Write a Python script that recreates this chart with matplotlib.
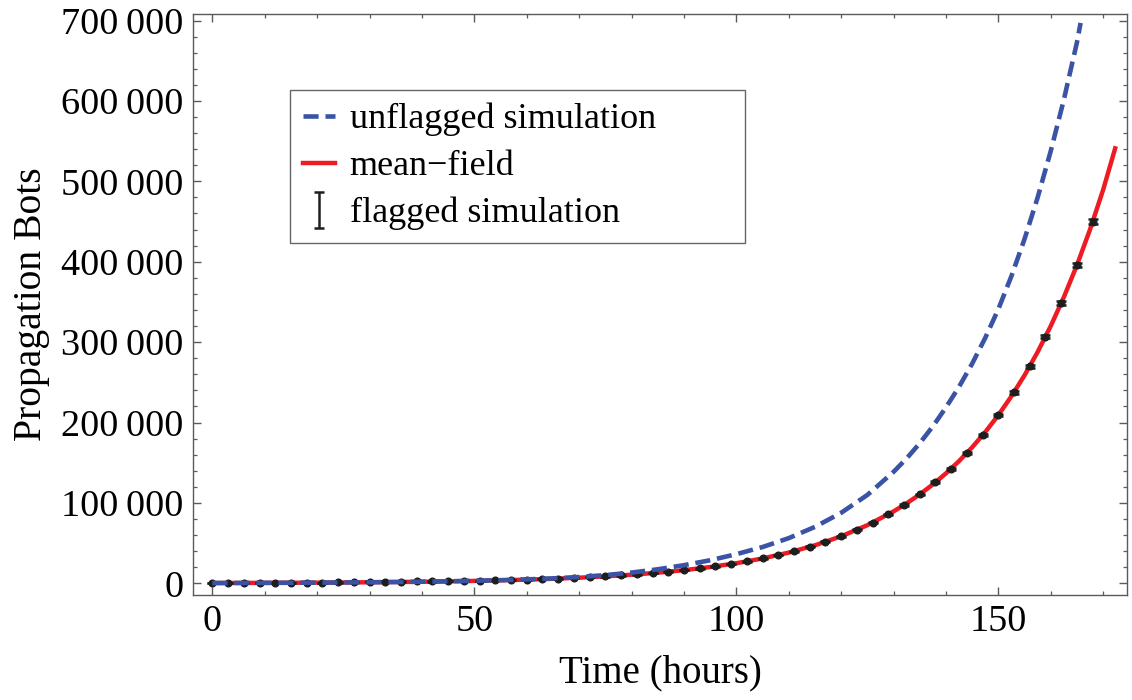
import matplotlib
matplotlib.use("Agg")
import matplotlib.pyplot as plt
from matplotlib.ticker import MultipleLocator, FuncFormatter

plt.rcParams['font.family'] = ['Liberation Serif', 'DejaVu Serif']

# -------- data --------
# mean-field curve
mf_t = [0, 5, 10, 15, 20, 25, 30, 35, 40, 45, 50, 55, 60, 65, 70, 75, 80, 85, 90,
        95, 100, 105, 110, 115, 120, 125, 130,
        132.5, 135, 137.5, 140, 142.5, 145, 147.5, 150, 152.5, 155, 157.5, 160,
        162.5, 165, 167.5, 170, 172.3]
mf_bots = [356, 440, 545, 674, 835, 1032, 1275, 1577, 1950, 2412, 2980, 3687, 4560,
           5640, 6980, 8630, 10680, 13210, 16330, 20200, 24980, 30900, 38210, 47260,
           58440, 72280, 89400,
           99420, 110570, 122970, 136700, 152020, 169100, 188060, 209200, 232650,
           258700, 287700, 320000, 355870, 395700, 440060, 489400, 541000]

# unflagged simulation (dashed)
unflag_t = [0, 5, 10, 15, 20, 25, 30, 35, 40, 45, 50, 55, 60, 65, 70, 75, 80, 85, 90,
            95, 100, 105, 110, 115, 120, 125, 130,
            132.5, 135, 137.5, 140, 142.5, 145, 147.5, 150, 152.5, 155, 157.5, 160,
            162.5, 165, 165.7]
unflag_bots = [360, 440, 550, 680, 845, 1045, 1300, 1610, 2010, 2510, 3130, 3910, 4880,
               6150, 7820, 10180, 13350, 17440, 22540, 28680, 36220, 45110, 56170,
               70180, 87660, 109870, 138570,
               155300, 174200, 195200, 218700, 244400, 273100, 305200, 341000, 382100,
               428200, 479800, 537600, 601400, 672700, 697000]

# flagged simulation (points with error bars)
flag_t = [0, 3, 6, 9, 12, 15, 18, 21, 24, 27, 30, 33, 36, 39, 42, 45, 48, 51, 54, 57,
          60, 63, 66, 69, 72, 75, 78, 81, 84, 87, 90, 93, 96, 99, 102, 105, 108, 111,
          114, 117, 120, 123, 126, 129, 132, 135, 138, 141, 144, 147, 150, 153, 156,
          159, 162, 165, 168]
flag_bots = [350, 400, 460, 520, 590, 670, 770, 870, 1000, 2100, 2200, 2100, 2200, 2300,
             2400, 2600, 2800, 3200, 4200, 4400, 4700, 5100, 5800, 6500, 7500, 8600,
             9800, 11100, 12600, 14400, 16300, 18600, 21100, 23900, 27200, 30900,
             35100, 39900, 45300, 51500, 58500, 66400, 75400, 85700, 97400, 110600,
             125700, 142700, 162200, 184200, 209300, 237700, 270000, 306800, 348500,
             395900, 449700]
flag_err = [60, 60, 70, 70, 80, 80, 90, 100,
            110, 130, 140, 150, 160, 170, 180, 190,
            200, 210, 220, 230, 240, 250, 260, 270,
            280, 290, 300, 310, 320, 330, 340, 360,
            380, 400, 420, 450, 480, 500, 550, 600,
            650, 700, 750, 800, 900, 1000, 1100, 1200,
            1300, 1500, 1600, 1800, 2000, 2200, 2500, 2700, 3000]

blue = '#3a53a4'
red = '#ed1c24'
dark = '#1e1e1e'
frame = '#5a5a5a'

# -------- plot --------
fig = plt.figure(figsize=(11.32, 7), dpi=100)
ax = fig.add_axes([0.1708, 0.15, 0.8248, 0.83])

mf, = ax.plot(mf_t, mf_bots, color=red, lw=3.2, zorder=2, label='mean\u2212field')
ax.plot(flag_t, flag_bots, 'o', color=dark, ms=4.8, zorder=3)
eb = ax.errorbar(flag_t, flag_bots, yerr=flag_err, fmt='none', ecolor=dark,
                 elinewidth=1.8, capsize=3.8, capthick=1.8, zorder=3,
                 label='flagged simulation')
unf, = ax.plot(unflag_t, unflag_bots, color=blue, lw=3.3, dashes=(3.3, 1.5),
               dash_capstyle='butt', zorder=4, label='unflagged simulation')

ax.set_xlim(-3.63, 174.56)
ax.set_ylim(-14550, 708100)

ax.xaxis.set_major_locator(MultipleLocator(50))
ax.xaxis.set_minor_locator(MultipleLocator(10))
ax.yaxis.set_major_locator(MultipleLocator(100000))
ax.yaxis.set_minor_locator(MultipleLocator(20000))
ax.yaxis.set_major_formatter(FuncFormatter(lambda v, p: f"{int(round(v)):,}".replace(",", "\u2009")))

ax.tick_params(which='both', direction='in', top=True, right=True,
               color=frame, labelcolor='black', labelsize=27.5, pad=7)
ax.tick_params(which='major', length=6, width=1.0)
ax.tick_params(which='minor', length=3.2, width=0.9)
for s in ax.spines.values():
    s.set_color(frame)
    s.set_linewidth(1.0)

ax.set_xlabel("Time (hours)", fontsize=28, labelpad=11)
ax.set_ylabel("Propagation Bots", fontsize=28.5, labelpad=8)

leg = ax.legend([unf, mf, eb], ['unflagged simulation', 'mean\u2212field', 'flagged simulation'],
                loc='upper left', bbox_to_anchor=(0.1036, 0.616, 0.487, 0.253),
                mode='expand', borderaxespad=0, fontsize=26, handlelength=0.9,
                handletextpad=0.4, labelspacing=0.38, borderpad=0.35,
                fancybox=False, framealpha=1, edgecolor='#666666')
leg.get_frame().set_linewidth(1.0)

fig.savefig("out.png", dpi=100)
